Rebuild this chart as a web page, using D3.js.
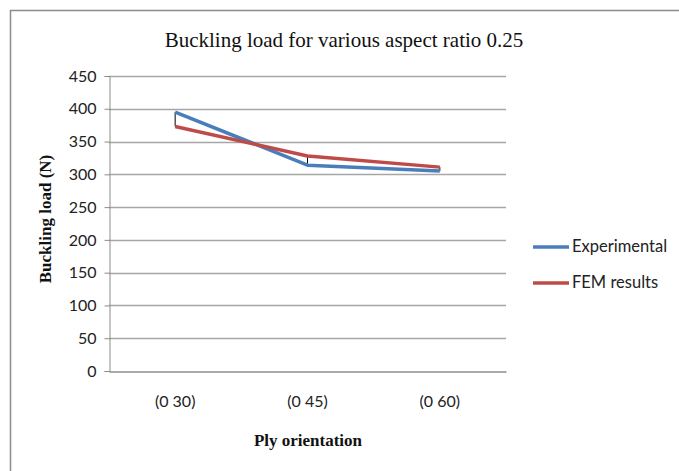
<!DOCTYPE html>
<html>
<head>
<meta charset="utf-8">
<script src="https://cdn.jsdelivr.net/npm/d3@7"></script>
<style>
  body { margin: 0; background: #fff; }
</style>
</head>
<body>
<svg id="chart"></svg>
<script>
// chart data
const categories = ["(0 30)", "(0 45)", "(0 60)"];
const experimental = [395, 314, 305];
const femResults = [373, 328, 311];
const yTicks = [0, 50, 100, 150, 200, 250, 300, 350, 400, 450];

const seriesNames = ["Experimental", "FEM results"];
const seriesColors = ["#4a7ebb", "#be4b48"];

const width = 679, height = 471;
const margin = { top: 76, right: 173, bottom: 100, left: 109 };

const svg = d3.select("#chart")
    .attr("width", width)
    .attr("height", height);

// outer frame
svg.append("rect")
    .attr("x", 10.5).attr("y", 10.5)
    .attr("width", 700).attr("height", 500)
    .attr("fill", "none")
    .attr("stroke", "#8c8c8c")
    .attr("stroke-width", 1.5);

const x = d3.scaleBand()
    .domain(categories)
    .range([margin.left, width - margin.right]);

const y = d3.scaleLinear()
    .domain([0, 450])
    .range([height - margin.bottom, margin.top]);

// gridlines
svg.append("g")
    .selectAll("line")
    .data(yTicks.filter(d => d > 0))
    .join("line")
    .attr("x1", margin.left)
    .attr("x2", width - margin.right)
    .attr("y1", d => Math.round(y(d)) + 0.5)
    .attr("y2", d => Math.round(y(d)) + 0.5)
    .attr("stroke", "#a6a6a6")
    .attr("stroke-width", 1.5);

// y axis
const yAxis = svg.append("g")
    .attr("transform", `translate(${margin.left + 0.5},0)`)
    .call(d3.axisLeft(y).tickValues(yTicks).tickSize(5).tickPadding(8));
yAxis.select(".domain").attr("stroke", "#8c8c8c");
yAxis.selectAll(".tick line").attr("stroke", "#8c8c8c");
yAxis.selectAll(".tick text")
    .attr("font-family", "Lato, 'Open Sans', sans-serif")
    .attr("font-size", 16)
    .attr("fill", "#222");

// x axis
const xAxis = svg.append("g")
    .attr("transform", `translate(0,${Math.round(y(0)) + 0.5})`)
    .call(d3.axisBottom(x).tickSize(0).tickPadding(24));
xAxis.select(".domain").attr("stroke", "#8c8c8c").attr("stroke-width", 1.5);
xAxis.selectAll(".tick text")
    .attr("font-family", "Lato, 'Open Sans', sans-serif")
    .attr("font-size", 16)
    .attr("fill", "#222");

// high-low lines between the two series
svg.append("g")
    .selectAll("line")
    .data(categories)
    .join("line")
    .attr("x1", d => x(d) + x.bandwidth() / 2)
    .attr("x2", d => x(d) + x.bandwidth() / 2)
    .attr("y1", (d, i) => y(experimental[i]))
    .attr("y2", (d, i) => y(femResults[i]))
    .attr("stroke", "#000")
    .attr("stroke-width", 1);

// series lines
const line = d3.line()
    .x((d, i) => x(categories[i]) + x.bandwidth() / 2)
    .y(d => y(d));

[experimental, femResults].forEach((s, k) => {
    svg.append("path")
        .datum(s)
        .attr("d", line)
        .attr("fill", "none")
        .attr("stroke", seriesColors[k])
        .attr("stroke-width", 3.5)
        .attr("stroke-linejoin", "round");
});

// title
svg.append("text")
    .attr("x", 344)
    .attr("y", 47)
    .attr("text-anchor", "middle")
    .attr("font-family", "'Liberation Serif', 'Times New Roman', serif")
    .attr("font-size", 21)
    .attr("fill", "#111")
    .text("Buckling load for various aspect ratio 0.25");

// axis titles
svg.append("text")
    .attr("transform", "translate(51,219) rotate(-90)")
    .attr("text-anchor", "middle")
    .attr("font-family", "'Liberation Serif', 'Times New Roman', serif")
    .attr("font-size", 17)
    .attr("font-weight", "bold")
    .attr("fill", "#111")
    .text("Buckling load  (N)");

svg.append("text")
    .attr("x", 308)
    .attr("y", 446)
    .attr("text-anchor", "middle")
    .attr("font-family", "'Liberation Serif', 'Times New Roman', serif")
    .attr("font-size", 17)
    .attr("font-weight", "bold")
    .attr("fill", "#111")
    .text("Ply orientation");

// legend
const legend = svg.selectAll(".legend")
    .data(seriesNames)
    .join("g")
    .attr("class", "legend")
    .attr("transform", (d, i) => `translate(533,${247 + i * 36})`);

legend.append("line")
    .attr("x1", 0).attr("x2", 36)
    .attr("stroke", (d, i) => seriesColors[i])
    .attr("stroke-width", 3.5);

legend.append("text")
    .attr("x", 39)
    .attr("y", 5)
    .attr("font-family", "Lato, 'Open Sans', sans-serif")
    .attr("font-size", 16.5)
    .attr("fill", "#222")
    .text(d => d);
</script>
</body>
</html>
